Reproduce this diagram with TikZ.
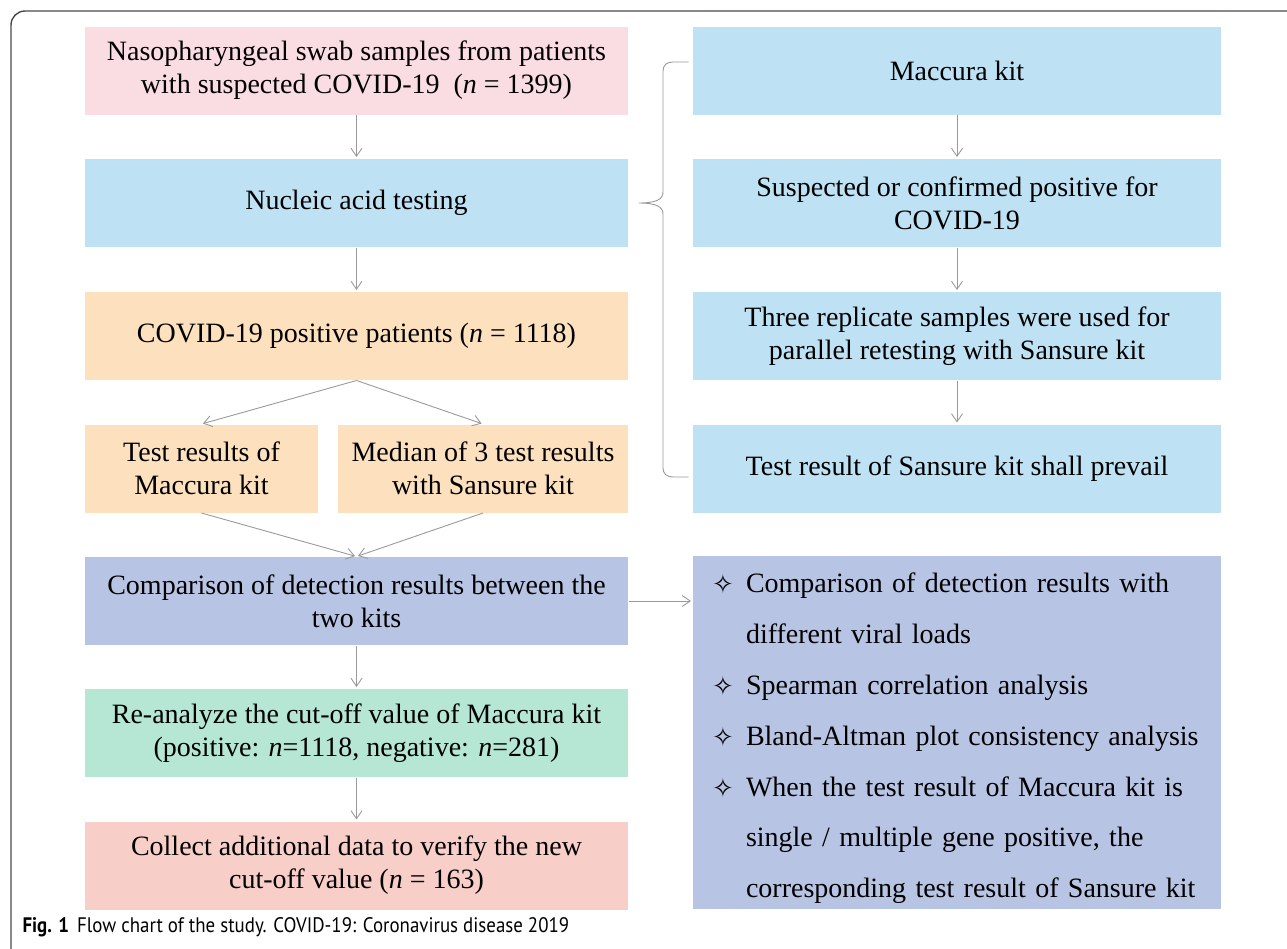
\documentclass[tikz,border=0pt]{standalone}
\usepackage{graphicx}
\usepackage{fontspec}
\setmainfont{Liberation Serif}
\newfontfamily\capfont{PT Sans}
\newfontfamily\symfont{DejaVu Sans}
\usetikzlibrary{arrows.meta}

\definecolor{swabpink}{HTML}{FADDE3}
\definecolor{testblue}{HTML}{BEE2F4}
\definecolor{posorange}{HTML}{FDE1BF}
\definecolor{cmppurple}{HTML}{B8C4E3}
\definecolor{anagreen}{HTML}{B5E7D4}
\definecolor{newsalmon}{HTML}{F8CEC8}
\definecolor{arrgray}{HTML}{9A9A9A}
\definecolor{framegray}{HTML}{4A4A4A}

\newcommand{\starsym}{\raisebox{-1pt}{\symfont\fontsize{26}{26}\selectfont\char"2727}}
\newcommand{\bul}{\makebox[34pt][l]{\starsym}}
\newcommand{\ind}{\hspace*{34pt}}

\begin{document}
\begin{tikzpicture}[x=1pt,y=-1pt,line width=1pt,
  box/.style={rectangle,inner sep=0pt,align=center,minimum height=88pt,
    font=\fontsize{28}{33}\selectfont},
  wide/.style={box,minimum width=543pt},
  rwide/.style={box,minimum width=528pt},
  arr/.style={draw=arrgray,line width=.9pt,shorten >=1.5pt,
    -{Straight Barb[length=8pt,width=11pt]}},
  brc/.style={draw=arrgray,line width=.9pt}]
\useasboundingbox (0,0) rectangle (1287,948);
% cadre
\draw[framegray,line width=1.4pt,rounded corners=14pt] (11,960) -- (11,11) -- (1300,11);
% colonne de gauche
\node[wide,fill=swabpink] (swab) at (356.5,70.5)
  {Nasopharyngeal swab samples from patients\\with suspected COVID-19~~(\textit{n} = 1399)};
\node[wide,fill=testblue] (nucleic) at (356.5,203) {Nucleic acid testing};
\node[wide,fill=posorange] (positive) at (356.5,336)
  {COVID-19 positive patients (\textit{n} = 1118)};
\node[box,fill=posorange,minimum width=233pt] (maccres) at (201.5,468.5)
  {Test results of\\Maccura kit};
\node[box,fill=posorange,minimum width=290pt] (median) at (483,468.5)
  {Median of 3 test results\\with Sansure kit};
\node[wide,fill=cmppurple] (compare) at (356.5,601)
  {Comparison of detection results between the\\two kits};
\node[wide,fill=anagreen] (cutoff) at (356.5,733)
  {Re-analyze the cut-off value of Maccura kit\\(positive: \textit{n}=1118, negative: \textit{n}=281)};
\node[wide,fill=newsalmon] (verify) at (356.5,865.5)
  {Collect additional data to verify the new\\cut-off value (\textit{n} = 163)};
% colonne de droite
\node[rwide,fill=testblue] (maccura) at (957,70.5) {Maccura kit};
\node[rwide,fill=testblue] (suspect) at (957,203)
  {Suspected or confirmed positive for\\COVID-19};
\node[rwide,fill=testblue] (replicate) at (957,336)
  {Three replicate samples were used for\\parallel retesting with Sansure kit};
\node[rwide,fill=testblue] (prevail) at (957,468.5)
  {Test result of Sansure kit shall prevail};
\node[rectangle,fill=cmppurple,minimum width=528pt,minimum height=353pt,
  inner sep=0pt] (analyses) at (957,732.5) {};
\node[inner sep=0pt,text width=490pt,align=left,
  font=\fontsize{28}{50.8}\selectfont] (analyseslist) at ([yshift=-6pt]analyses.center)
  {\bul Comparison of detection results with\\
   \ind different viral loads\\
   \bul Spearman correlation analysis\\
   \bul Bland-Altman plot consistency analysis\\
   \bul When the test result of Maccura kit is\\
   \ind single / multiple gene positive, the\\
   \ind corresponding test result of Sansure kit};
% fleches
\draw[arr] (swab) -- (nucleic);
\draw[arr] (nucleic) -- (positive);
\draw[arr] (positive.south) -- (maccres.north);
\draw[arr] (positive.south) -- (median.north);
\draw[arr] (maccres.south) -- (compare.north);
\draw[arr] (median.south) -- (compare.north);
\draw[arr] (compare) -- (cutoff);
\draw[arr] (cutoff) -- (verify);
\draw[arr] (compare.east) -- (compare.east -| analyses.west);
\draw[arr] (maccura) -- (suspect);
\draw[arr] (suspect) -- (replicate);
\draw[arr] (replicate) -- (prevail);
% accolade
\coordinate (btop) at ([xshift=-4pt,yshift=8.5pt]maccura.west);
\coordinate (bbot) at ([xshift=-4pt,yshift=-8.5pt]prevail.west);
\coordinate (btip) at ([xshift=10pt]nucleic.east);
\draw[brc] (btop) -- (673,62) .. controls (667,62) and (663,65) .. (663,71)
  -- (663,192) .. controls (663,199) and (657,203) .. (btip)
  .. controls (657,203) and (663,207) .. (663,214)
  -- (663,468) .. controls (663,474) and (667,477) .. (673,477) -- (bbot);
% legende
\node[anchor=west,inner sep=0pt,font=\capfont\fontsize{21}{21}\selectfont] (caption) at (22,927)
  {\scalebox{0.9}[1]{\textbf{Fig. 1}\hspace{9pt}Flow chart of the study. COVID-19: Coronavirus disease 2019}};
\end{tikzpicture}
\end{document}
